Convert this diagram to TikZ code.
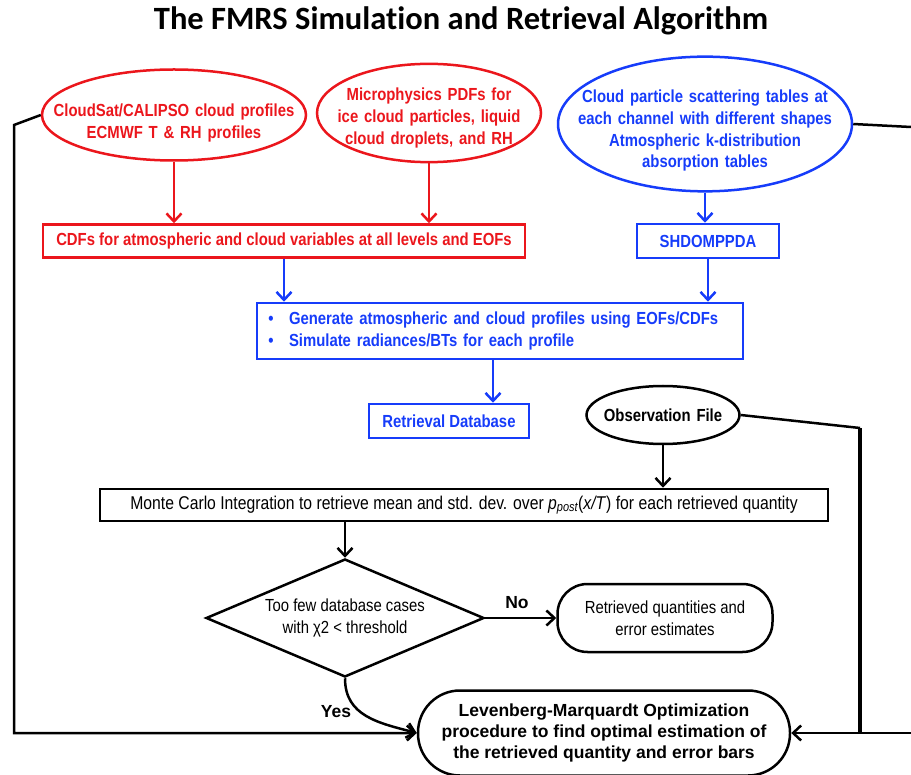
\documentclass[tikz,border=0pt]{standalone}
\usepackage{fontspec}
\setmainfont[FakeStretch=0.85]{Liberation Sans}
\newfontfamily\widefont{Liberation Sans}
\newfontfamily\titlefont[Ligatures=NoCommon]{Carlito}
\usetikzlibrary{shapes.geometric,arrows.meta,positioning}

\definecolor{fmred}{RGB}{235,22,28}
\definecolor{fmblue}{RGB}{22,60,250}
\newcommand\fmsize{\fontsize{17.5}{21.7}\selectfont}
\newcommand\lift[1]{\rule{0pt}{#1}}

\tikzset{
  redpart/.style={draw=fmred, text=fmred, font=\fmsize\bfseries},
  bluepart/.style={draw=fmblue, text=fmblue, font=\fmsize\bfseries},
  blackpart/.style={draw=black, text=black, font=\fmsize\bfseries},
  plainpart/.style={draw=black, text=black, font=\fmsize},
  widepart/.style={draw=black, text=black, font=\widefont\bfseries\fontsize{17.5}{21}\selectfont},
  oval/.style={ellipse, inner ysep=0pt, align=center},
  stepbox/.style={rectangle, inner sep=2pt, align=center},
  pill/.style={rectangle, rounded corners=#1, align=center},
}

\begin{document}
\begin{tikzpicture}[x=1pt,y=-1pt,line width=2.5pt,>={Straight Barb[length=8pt,width=15pt]}]
\useasboundingbox (0,0) rectangle (911,775);

\node[font=\titlefont\bfseries\fontsize{32.5}{36}\selectfont] (title) at (461,21) {The FMRS Simulation and Retrieval Algorithm};

% input data
\node[oval, redpart, text width=290pt, inner xsep=-145pt, minimum width=264pt, minimum height=91pt] (cloudsat) at (174,115)
  {\lift{28.5pt}CloudSat/CALIPSO cloud profiles\\ECMWF T \& RH profiles};
\node[oval, redpart, text width=260pt, inner xsep=-130pt, minimum width=224pt, minimum height=93pt] (micro) at (429,113)
  {\lift{22.5pt}Microphysics  PDFs for\\ice cloud particles, liquid\\cloud droplets, and  RH};
\node[oval, bluepart, text width=320pt, inner xsep=-160pt, minimum width=294pt, minimum height=124pt] (scat) at (705,124)
  {\lift{26.5pt}Cloud particle scattering  tables  at\\each  channel  with  different  shapes\\Atmospheric  k-distribution\\absorption  tables};

\node[stepbox, redpart, minimum width=482pt, minimum height=33pt] (cdf) at (284,241)
  {CDFs  for atmospheric  and  cloud  variables  at all levels and EOFs};
\node[stepbox, bluepart, minimum width=142pt, minimum height=34pt] (shdom) at (708,241) {SHDOMPPDA};

\node[stepbox, bluepart, text width=476pt, align=left, minimum width=486pt, minimum height=56pt] (gen) at (500,331)
  {\makebox[18pt]{\textbullet}\hspace{9pt}Generate  atmospheric  and  cloud  profiles  using  EOFs/CDFs\\
   \makebox[18pt]{\textbullet}\hspace{9pt}Simulate  radiances/BTs  for  each  profile};
\node[stepbox, bluepart, minimum width=160pt, minimum height=34pt] (rdb) at (449,421) {Retrieval  Database};

% retrieval
\node[oval, blackpart, text width=160pt, inner xsep=-80pt, minimum width=153pt, minimum height=58pt] (obs) at (663,415) {Observation  File};
\node[stepbox, plainpart, font=\fontsize{18.5}{22}\selectfont, minimum width=728pt, minimum height=32pt] (mc) at (464,505)
  {Monte  Carlo  Integration   to  retrieve  mean  and  std.  dev.  over  \textit{p\textsubscript{post}}(\textit{x/T})  for  each  retrieved  quantity};
\node[diamond, aspect=2.36, plainpart, inner sep=0pt, align=center, minimum width=278pt, minimum height=118pt] (decide) at (345,618)
  {Too few database  cases\\with χ2 {<} threshold};
\node[pill=30pt, plainpart, minimum width=215pt, minimum height=68pt] (retq) at (665,618)
  {Retrieved  quantities  and\\error  estimates};
\node[pill=42pt, widepart, minimum width=372pt, minimum height=85pt] (lmopt) at (604,733)
  {Levenberg-Marquardt Optimization\\procedure to find optimal estimation of\\the retrieved quantity  and error bars};

\node[widepart, draw=none] (no) at (517,603) {No};
\node[widepart, draw=none] (yes) at (336,712) {Yes};

% connectors
\draw[->, fmred] (cloudsat.south) -- (cloudsat.south |- cdf.north);
\draw[->, fmred] (micro.south) -- (micro.south |- cdf.north);
\draw[->, fmblue] (scat.south) -- (scat.south |- shdom.north);
\draw[->, fmblue] (cdf.south) -- (cdf.south |- gen.north);
\draw[->, fmblue] (shdom.south) -- (shdom.south |- gen.north);
\draw[->, fmblue] ([xshift=-7pt]gen.south) -- ([xshift=-7pt]gen.south |- rdb.north);
\draw[->] (obs.south) -- (obs.south |- mc.north);
\draw[->] (decide.north |- mc.south) -- (decide.north);
\draw[->] (decide.east) -- (retq.west);
\draw[->] (decide.south) .. controls +(0,38) and +(-38,-10) .. (lmopt.west);

\coordinate (lefttop) at (14,125);
\coordinate (leftbot) at (14,733);
\draw[->] (cloudsat.west) -- (lefttop) -- (leftbot) -- (lmopt.west);

\coordinate (righttop) at (911,127);
\coordinate (rightbot) at (911,733);
\coordinate (obscorner) at (860,428);
\draw (scat.east) -- (righttop);
\draw[->] (rightbot) -- (lmopt.east);
\draw (obs.east) -- (obscorner);
\draw[line width=3.5pt] (obscorner) -- (obscorner |- lmopt.east);
\end{tikzpicture}
\end{document}
